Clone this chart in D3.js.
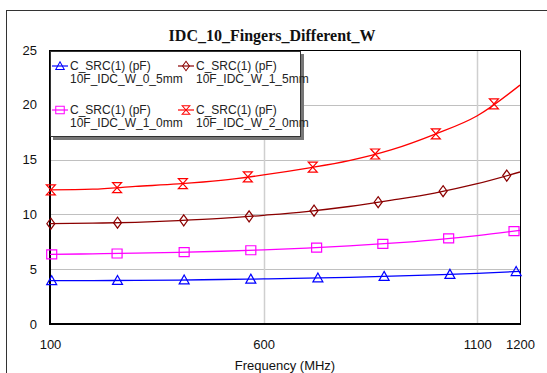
<!DOCTYPE html>
<html>
<head>
<meta charset="utf-8">
<script src="https://cdn.jsdelivr.net/npm/d3@7"></script>
<style>
  html, body { margin: 0; padding: 0; background: #fff; }
  svg { display: block; }
</style>
</head>
<body>
<svg id="chart" width="547" height="373"></svg>
<script>
// Swept frequencies (MHz) for the simulated capacitance curves
const freqs = [100, 200, 300, 400, 500, 600, 700, 800, 900, 1000, 1100, 1200];

// C_SRC(1) in pF for each finger width
const capW05 = [3.95, 3.96, 3.98, 4.01, 4.06, 4.11, 4.18, 4.26, 4.36, 4.48, 4.62, 4.80];
const capW10 = [6.36, 6.40, 6.46, 6.54, 6.64, 6.77, 6.93, 7.12, 7.37, 7.68, 8.07, 8.55];
const capW15 = [9.15, 9.20, 9.28, 9.43, 9.63, 9.92, 10.26, 10.72, 11.30, 11.95, 12.80, 13.87];
const capW20 = [12.23, 12.30, 12.55, 12.78, 13.10, 13.60, 14.20, 14.90, 15.90, 17.30, 19.00, 21.80];

// Frequencies at which symbols are placed on each trace
const markW05 = [104, 258, 414, 570, 727, 882, 1036, 1191];
const markW10 = [104, 257, 414, 570, 724, 879, 1033, 1186];
const markW15 = [102, 258, 413, 566, 718, 868, 1020, 1169];
const markW20 = [102, 257, 411, 563, 715, 861, 1003, 1139];

const seriesNames = ["10F_IDC_W_0_5mm", "10F_IDC_W_1_5mm", "10F_IDC_W_1_0mm", "10F_IDC_W_2_0mm"];
const yTicks = [0, 5, 10, 15, 20, 25];
const xTicks = [100, 600, 1100, 1200];
const xGrid = [600, 1100];

const series = [
  { name: seriesNames[0], values: capW05, marks: markW05, color: "#0000ff", symbol: "triangle" },
  { name: seriesNames[1], values: capW15, marks: markW15, color: "#8b0000", symbol: "diamond" },
  { name: seriesNames[2], values: capW10, marks: markW10, color: "#ff00ff", symbol: "square" },
  { name: seriesNames[3], values: capW20, marks: markW20, color: "#ff0000", symbol: "hourglass" }
];

const svg = d3.select("#chart");
const plot = { left: 50, right: 520, top: 50, bottom: 324 };

const x = d3.scaleLinear().domain([100, 1200]).range([plot.left, plot.right]);
const y = d3.scaleLinear().domain([0, 25]).range([plot.bottom, plot.top]);

// Outer frame
svg.append("rect")
  .attr("x", 6.5).attr("y", 10.5).attr("width", 560).attr("height", 380)
  .attr("fill", "none").attr("stroke", "#333").attr("stroke-width", 1);

// Title
svg.append("text")
  .attr("x", 272).attr("y", 41)
  .attr("text-anchor", "middle")
  .attr("font-family", "'Liberation Serif', 'Times New Roman', serif")
  .attr("font-weight", "bold").attr("font-size", 16)
  .attr("fill", "#111")
  .text("IDC_10_Fingers_Different_W");

// Grid
svg.append("g").selectAll("line").data(yTicks.filter(d => d > 0 && d < 25)).join("line")
  .attr("x1", plot.left).attr("x2", plot.right)
  .attr("y1", d => Math.round(y(d)) + 0.5).attr("y2", d => Math.round(y(d)) + 0.5)
  .attr("stroke", "#c0c0c0").attr("stroke-width", 1);
svg.append("g").selectAll("line").data(xGrid).join("line")
  .attr("x1", d => Math.round(x(d)) + 0.5).attr("x2", d => Math.round(x(d)) + 0.5)
  .attr("y1", plot.top).attr("y2", plot.bottom)
  .attr("stroke", "#cfcfcf").attr("stroke-width", 1.5);

// Plot border: thin top/right, heavy left/bottom
svg.append("path")
  .attr("d", `M${plot.left},${plot.top + 0.5}H${plot.right + 0.5}V${plot.bottom}`)
  .attr("fill", "none").attr("stroke", "#000").attr("stroke-width", 1);
svg.append("path")
  .attr("d", `M${plot.left},${plot.top}V${plot.bottom}H${plot.right + 1}`)
  .attr("fill", "none").attr("stroke", "#000").attr("stroke-width", 2);

// Axes labels via d3 axes (tick lines hidden)
const yAxis = d3.axisLeft(y).tickValues(yTicks).tickSize(0).tickPadding(13);
const gy = svg.append("g").attr("transform", `translate(${plot.left},0)`).call(yAxis);
gy.select(".domain").remove();
gy.selectAll("text").attr("font-family", "'Liberation Sans', Arial, sans-serif")
  .attr("font-size", 13).attr("fill", "#111");

const xAxis = d3.axisBottom(x).tickValues(xTicks).tickSize(0).tickPadding(16).tickFormat(d3.format("d"));
const gx = svg.append("g").attr("transform", `translate(0,${plot.bottom})`).call(xAxis);
gx.select(".domain").remove();
gx.selectAll("text").attr("font-family", "'Liberation Sans', Arial, sans-serif")
  .attr("font-size", 13).attr("fill", "#111");

svg.append("text")
  .attr("x", 285).attr("y", 370)
  .attr("text-anchor", "middle")
  .attr("font-family", "'Liberation Sans', Arial, sans-serif")
  .attr("font-size", 13).attr("fill", "#111")
  .text("Frequency (MHz)");

// Symbol paths centered at origin
function symbolPath(kind) {
  switch (kind) {
    case "triangle": return "M0,-5L5,4H-5Z";
    case "diamond": return "M0,-5.5L4,0L0,5.5L-4,0Z";
    case "square": return "M-5,-4.5H5V4.5H-5Z";
    case "hourglass": return "M-4.5,-5H4.5L-4.5,5H4.5Z";
  }
}

// Interpolate a curve value at an arbitrary frequency
function valueAt(values, f) {
  const i = Math.min(freqs.length - 2, Math.max(0, d3.bisectRight(freqs, f) - 1));
  const t = (f - freqs[i]) / (freqs[i + 1] - freqs[i]);
  return values[i] + t * (values[i + 1] - values[i]);
}

const line = d3.line()
  .x((d, i) => x(freqs[i]))
  .y(d => y(d))
  .curve(d3.curveMonotoneX);

const plotClip = svg.append("clipPath").attr("id", "plotclip")
  .append("rect").attr("x", plot.left).attr("y", plot.top)
  .attr("width", plot.right - plot.left).attr("height", plot.bottom - plot.top);

series.forEach(s => {
  const g = svg.append("g");
  g.append("path")
    .attr("d", line(s.values))
    .attr("fill", "none").attr("stroke", s.color).attr("stroke-width", 1.3)
    .attr("clip-path", "url(#plotclip)");
  g.selectAll("path.sym").data(s.marks).join("path")
    .attr("class", "sym")
    .attr("d", symbolPath(s.symbol))
    .attr("transform", f => `translate(${x(f)},${y(valueAt(s.values, f))})`)
    .attr("fill", "none").attr("stroke", s.color).attr("stroke-width", 1.2);
});

// Legend box with drop shadow
const lg = svg.append("g");
lg.append("rect").attr("x", 53).attr("y", 54).attr("width", 251).attr("height", 86).attr("fill", "#777");
lg.append("rect").attr("x", 50.5).attr("y", 51.5).attr("width", 250).attr("height", 85)
  .attr("fill", "#fff").attr("stroke", "#333").attr("stroke-width", 1);

const legendPos = [
  { x: 52, y: 66 }, { x: 178, y: 66 },
  { x: 52, y: 110 }, { x: 178, y: 110 }
];
series.forEach((s, i) => {
  const p = legendPos[i];
  lg.append("line").attr("x1", p.x).attr("x2", p.x + 16).attr("y1", p.y).attr("y2", p.y)
    .attr("stroke", s.color).attr("stroke-width", 1.2);
  lg.append("path").attr("d", symbolPath(s.symbol))
    .attr("transform", `translate(${p.x + 8},${p.y}) scale(0.85)`)
    .attr("fill", "none").attr("stroke", s.color).attr("stroke-width", 1.2);
  const t = lg.append("text")
    .attr("font-family", "'Liberation Sans', Arial, sans-serif")
    .attr("font-size", 12).attr("fill", "#222");
  t.append("tspan").attr("x", p.x + 18).attr("y", p.y + 4).text("C_SRC(1) (pF)");
  t.append("tspan").attr("x", p.x + 18).attr("y", p.y + 17).text(s.name);
});
</script>
</body>
</html>
